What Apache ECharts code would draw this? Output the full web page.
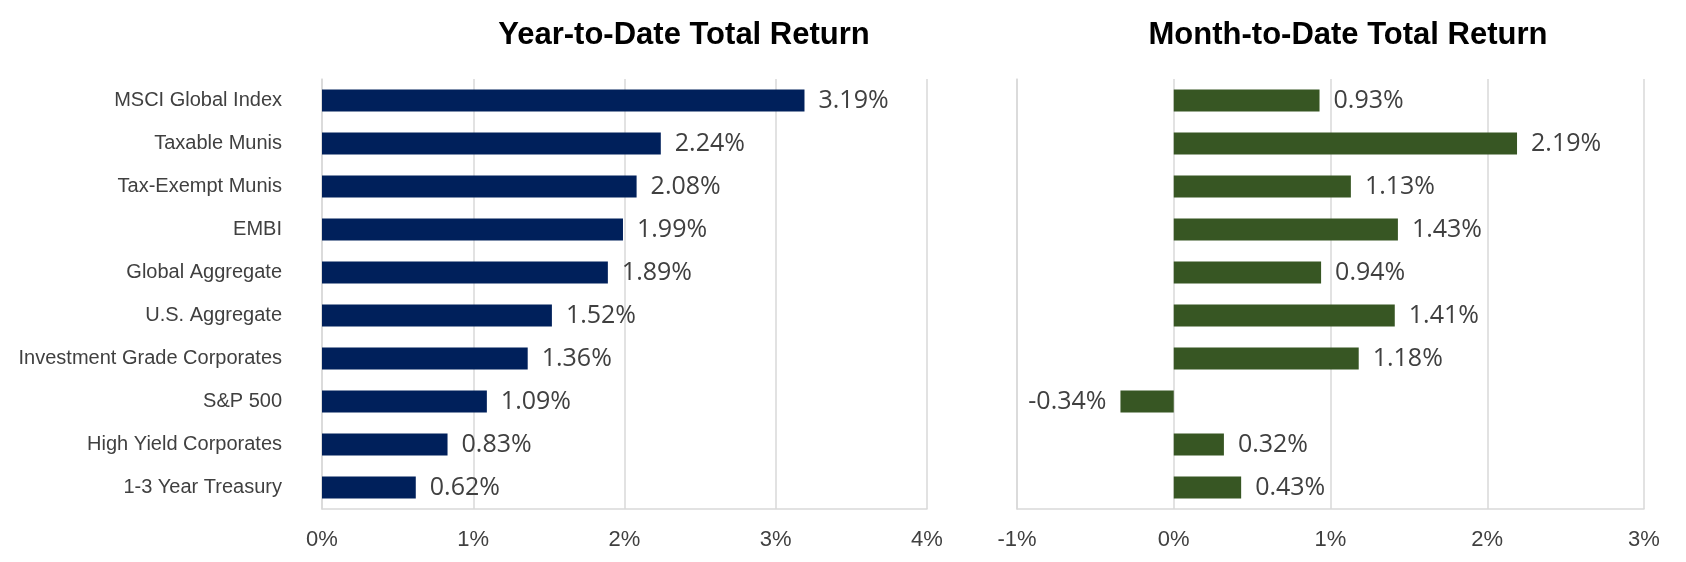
<!DOCTYPE html>
<html>
<head>
<meta charset="utf-8">
<script src="https://cdn.jsdelivr.net/npm/echarts@6/dist/echarts.min.js"></script>
<style>
html,body{margin:0;padding:0;background:#fff;}
#chart{width:1686px;height:562px;}
</style>
</head>
<body>
<div id="chart"></div>
<script>
const categories = ["MSCI Global Index","Taxable Munis","Tax-Exempt Munis","EMBI","Global Aggregate","U.S. Aggregate","Investment Grade Corporates","S&P 500","High Yield Corporates","1-3 Year Treasury"];
const ytdValues = [3.19, 2.24, 2.08, 1.99, 1.89, 1.52, 1.36, 1.09, 0.83, 0.62];
const mtdValues = [0.93, 2.19, 1.13, 1.43, 0.94, 1.41, 1.18, -0.34, 0.32, 0.43];
const titles = ["Year-to-Date Total Return", "Month-to-Date Total Return"];

const narrow = "'Liberation Sans Narrow', 'Liberation Sans', sans-serif";
const valFont = "'Open Sans', 'Liberation Sans', sans-serif";
const gridColor = '#D9D9D9';
const textColor = '#404040';

function fmt(v){ return v.toFixed(2) + '%'; }

const chart = echarts.init(document.getElementById('chart'), null, {renderer:'canvas'});
const xAxisCommon = {
  type:'value', interval:1,
  axisLine:{show:true, onZero:false, lineStyle:{color:gridColor, width:1.5}}, axisTick:{show:false},
  splitLine:{show:true, lineStyle:{color:gridColor, width:1.5}},
  axisLabel:{formatter:v => v + '%', color:textColor, fontFamily:narrow, fontSize:22, margin:20}
};
chart.setOption({
  animation:false,
  title:[
    {text:titles[0], left:679, top:15, textAlign:'center', textStyle:{fontFamily:"'Liberation Sans', sans-serif", fontWeight:'bold', fontSize:31, color:'#000'}},
    {text:titles[1], left:1343, top:15, textAlign:'center', textStyle:{fontFamily:"'Liberation Sans', sans-serif", fontWeight:'bold', fontSize:31, color:'#000'}}
  ],
  grid:[
    {left:322, right:759, top:79, bottom:53, containLabel:false, outerBoundsMode:'none'},
    {left:1017, right:42, top:79, bottom:53, containLabel:false, outerBoundsMode:'none'}
  ],
  xAxis:[
    Object.assign({gridIndex:0, min:0, max:4}, xAxisCommon),
    Object.assign({gridIndex:1, min:-1, max:3}, xAxisCommon)
  ],
  yAxis:[
    {type:'category', gridIndex:0, data:categories, inverse:true,
     axisLine:{show:true, lineStyle:{color:gridColor, width:1.5}}, axisTick:{show:false},
     axisLabel:{color:textColor, fontFamily:narrow, fontSize:20, margin:40},
     splitLine:{show:false}},
    {type:'category', gridIndex:1, data:categories, inverse:true,
     axisLine:{show:true, onZero:false, lineStyle:{color:gridColor, width:1.5}}, axisTick:{show:false},
     axisLabel:{show:false}, splitLine:{show:false}}
  ],
  series:[
    {type:'bar', xAxisIndex:0, yAxisIndex:0, data:ytdValues, barWidth:22,
     itemStyle:{color:'#00205B'},
     label:{show:true, position:'right', distance:14, formatter:p => fmt(p.value), color:textColor, fontFamily:valFont, fontSize:25}},
    {type:'bar', xAxisIndex:1, yAxisIndex:1, barWidth:22,
     data:mtdValues.map(v => ({value:v, label:{position: v < 0 ? 'left' : 'right'}})),
     itemStyle:{color:'#375623'},
     label:{show:true, distance:14, formatter:p => fmt(p.value), color:textColor, fontFamily:valFont, fontSize:25}}
  ]
});
</script>
</body>
</html>
